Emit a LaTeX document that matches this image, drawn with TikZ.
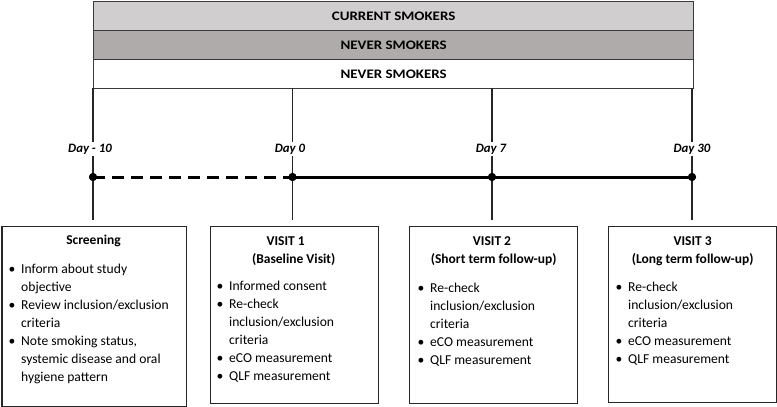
\documentclass[tikz,border=0pt]{standalone}
\usepackage{fontspec}
\setmainfont{Carlito}
\definecolor{barA}{HTML}{D0CECE}
\definecolor{barB}{HTML}{AFABAB}
\definecolor{edge}{HTML}{3A3A3A}
\newcommand{\bl}{\makebox[12.5pt][l]{\textbullet}}
\newcommand{\ind}{\hspace*{12.5pt}}
\newcommand{\wide}[1]{\scalebox{1.15}[1]{#1}}
\begin{document}
\begin{tikzpicture}[x=1pt,y=-1pt,
  bar/.style={draw=edge, line width=1.2pt, inner sep=0pt, minimum width=600pt, minimum height=29pt, anchor=north west, font=\fontsize{13}{15}\selectfont\bfseries},
  box/.style={draw=black!85, line width=1.2pt, inner sep=0pt, anchor=north west},
  vline/.style={black!85, line width=1.3pt},
  daylbl/.style={fill=white, inner sep=2pt, anchor=base, font=\fontsize{12.8}{14}\selectfont\bfseries\itshape},
  dot/.style={circle, fill=black, inner sep=0pt, minimum size=8pt},
  ttl/.style={anchor=base, inner sep=0pt, font=\fontsize{13.5}{18}\selectfont\bfseries},
  lst/.style={anchor=north west, inner sep=0pt, align=left, font=\fontsize{13.6}{18}\selectfont},
  tl/.style={line width=3pt}
]
\useasboundingbox (0,0) rectangle (777,407);
% top bars
\node[bar, fill=barA] (cur) at (93,1) {\wide{CURRENT SMOKERS}};
\node[bar, fill=barB] (nev1) at (93,30) {\wide{NEVER SMOKERS}};
\node[bar, fill=white] (nev2) at (93,59) {\wide{NEVER SMOKERS}};
% coordinates
\foreach \n/\x in {0/93,1/292.5,2/492,3/692}{
  \coordinate (t\n) at (\x,88);
  \coordinate (b\n) at (\x,219.5);
}
\draw[vline] (t0) -- (b0);
\draw[vline] (t1) -- (b1);
\draw[vline] (t2) -- (b2);
\draw[vline] (t3) -- (b3);
% day labels
\node[daylbl] (l0) at (90,152) {Day - 10};
\node[daylbl] (l1) at (290,152) {Day 0};
\node[daylbl] (l2) at (491,152) {Day 7};
\node[daylbl] (l3) at (692,152) {Day 30};
% timeline
\node[dot] (d0) at (93,177) {};
\node[dot] (d1) at (292.5,177) {};
\node[dot] (d2) at (492,177) {};
\node[dot] (d3) at (692,177) {};
\draw[tl, dash pattern=on 12pt off 7pt] (d0.center) -- (d1.center);
\draw[tl] (d1.center) -- (d2.center) -- (d3.center);
\node[dot] at (d0) {};
\node[dot] at (d1) {};
\node[dot] at (d2) {};
\node[dot] at (d3) {};
% boxes
\node[box, minimum width=184.5pt, minimum height=179.5pt] (scr) at (1.5,226) {};
\node[box, minimum width=168pt, minimum height=177pt] (v1) at (210,226) {};
\node[box, minimum width=168pt, minimum height=176.5pt] (v2) at (409,226) {};
\node[box, minimum width=168pt, minimum height=176.5pt] (v3) at (608,225.5) {};
% titles
\node[ttl] (scrt) at (93.5,244.5) {Screening};
\node[ttl] (v1a) at (285.7,245) {VISIT 1};
\node[ttl] (v1b) at (293.7,263) {(Baseline Visit)};
\node[ttl] (v2a) at (492,245) {VISIT 2};
\node[ttl] (v2b) at (493.7,263) {(Short term follow-up)};
\node[ttl] (v3a) at (692.7,245) {VISIT 3};
\node[ttl] (v3b) at (692.7,263) {(Long term follow-up)};
% lists
\node[lst] (scrl) at (8.5,260.9) {\strut\bl Inform about study\\ \ind objective\\ \bl Review inclusion/exclusion\\ \ind criteria\\ \bl Note smoking status,\\ \ind systemic disease and oral\\ \ind hygiene pattern};
\node[lst] (v1l) at (216.5,278.1) {\strut\bl Informed consent\\ \bl Re-check\\ \ind inclusion/exclusion\\ \ind criteria\\ \bl eCO measurement\\ \bl QLF measurement};
\node[lst] (v2l) at (417.5,279.4) {\strut\bl Re-check\\ \ind inclusion/exclusion\\ \ind criteria\\ \bl eCO measurement\\ \bl QLF measurement};
\node[lst] (v3l) at (615.5,278.7) {\strut\bl Re-check\\ \ind inclusion/exclusion\\ \ind criteria\\ \bl eCO measurement\\ \bl QLF measurement};
\end{tikzpicture}
\end{document}
